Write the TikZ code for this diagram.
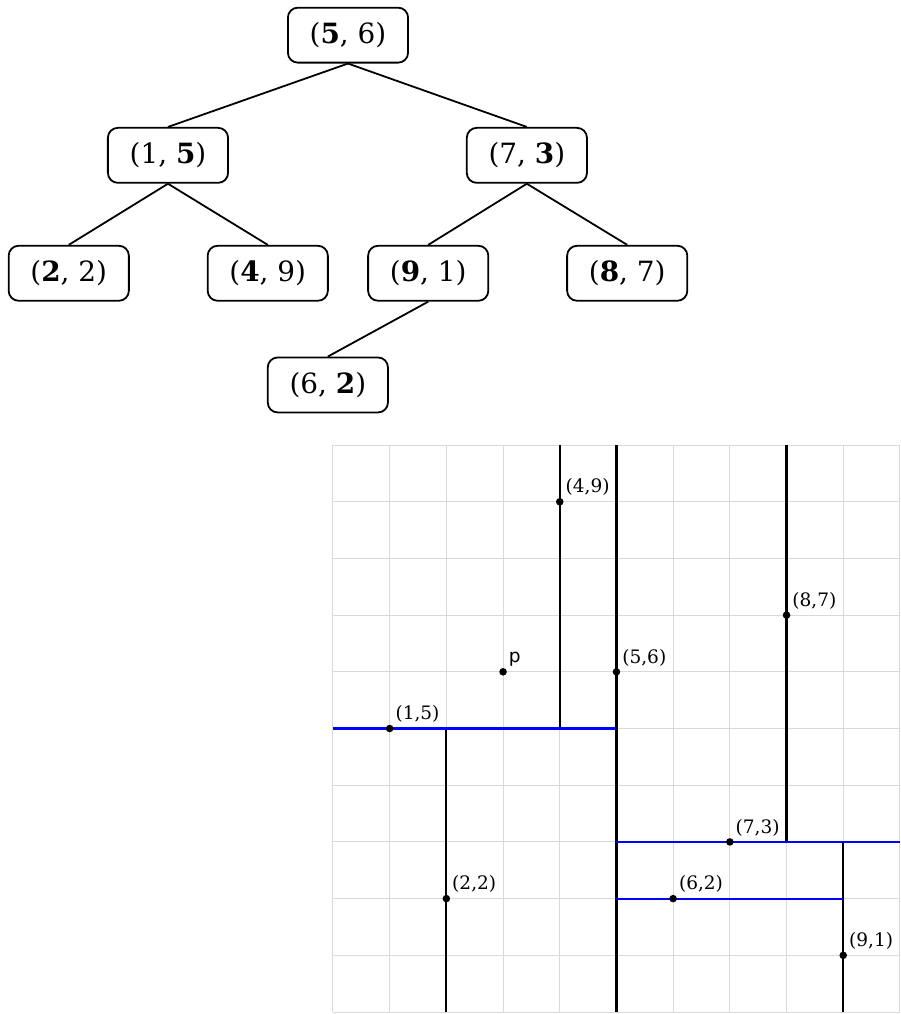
\documentclass[tikz,border=0pt]{standalone}
\usepackage{fontspec}
\setmainfont{DejaVu Serif}
\setsansfont{DejaVu Sans}
\begin{document}
\begin{tikzpicture}[x=1cm, y=1cm, line width=0.9pt,
  treenode/.style={draw, rounded corners=5pt, minimum width=2.12cm, minimum height=0.97cm, font=\fontsize{14}{16}\selectfont},
  ptlabel/.style={above right, inner sep=2.5pt, font=\fontsize{9.3}{11}\selectfont},
  cutline/.style={black, line width=1.1pt},
  splitline/.style={blue, line width=1.1pt}]
  \useasboundingbox (-5.873,-0.035) rectangle (10.018,17.85);
  % 1. 树的节点 (粗体为划分坐标)
  \node[treenode] (n56) at (0.265,17.23) {(\textbf{5}, 6)};
  \node[treenode] (n15) at (-2.91,15.11) {(1, \textbf{5})};
  \node[treenode] (n73) at (3.42,15.11) {(7, \textbf{3})};
  \node[treenode] (n22) at (-4.66,13.03) {(\textbf{2}, 2)};
  \node[treenode] (n49) at (-1.15,13.03) {(\textbf{4}, 9)};
  \node[treenode] (n91) at (1.68,13.03) {(\textbf{9}, 1)};
  \node[treenode] (n87) at (5.19,13.03) {(\textbf{8}, 7)};
  \node[treenode] (n62) at (-0.09,11.06) {(6, \textbf{2})};

  % 2. 树的边
  \draw (n56.south) -- (n15.north);
  \draw (n56.south) -- (n73.north);
  \draw (n15.south) -- (n22.north);
  \draw (n15.south) -- (n49.north);
  \draw (n73.south) -- (n91.north);
  \draw (n73.south) -- (n87.north);
  \draw (n91.south) -- (n62.north);

  % 3. 网格
  \draw[gray!30, line width=0.5pt] (0,0) grid (10,10);

  % 4. 划分线 (竖线黑色, 横线蓝色)
  \draw[cutline] (5,0) -- (5,10);
  \draw[cutline] (4,5) -- (4,10);
  \draw[cutline] (2,0) -- (2,5);
  \draw[cutline] (8,3) -- (8,10);
  \draw[cutline] (9,0) -- (9,3);
  \draw[splitline] (0,5) -- (5,5);
  \draw[splitline] (5,3) -- (10,3);
  \draw[splitline] (5,2) -- (9,2);

  % 5. 数据点与标签
  \foreach \px/\py in {5/6, 1/5, 7/3, 2/2, 4/9, 9/1, 8/7, 6/2}
    \fill (\px,\py) circle (1.9pt) node[ptlabel] (l\px\py) {(\px,\py)};
  \fill (3,6) circle (1.9pt) node[ptlabel, font=\sffamily\fontsize{9.3}{11}\selectfont] (lp) {p};
\end{tikzpicture}
\end{document}
